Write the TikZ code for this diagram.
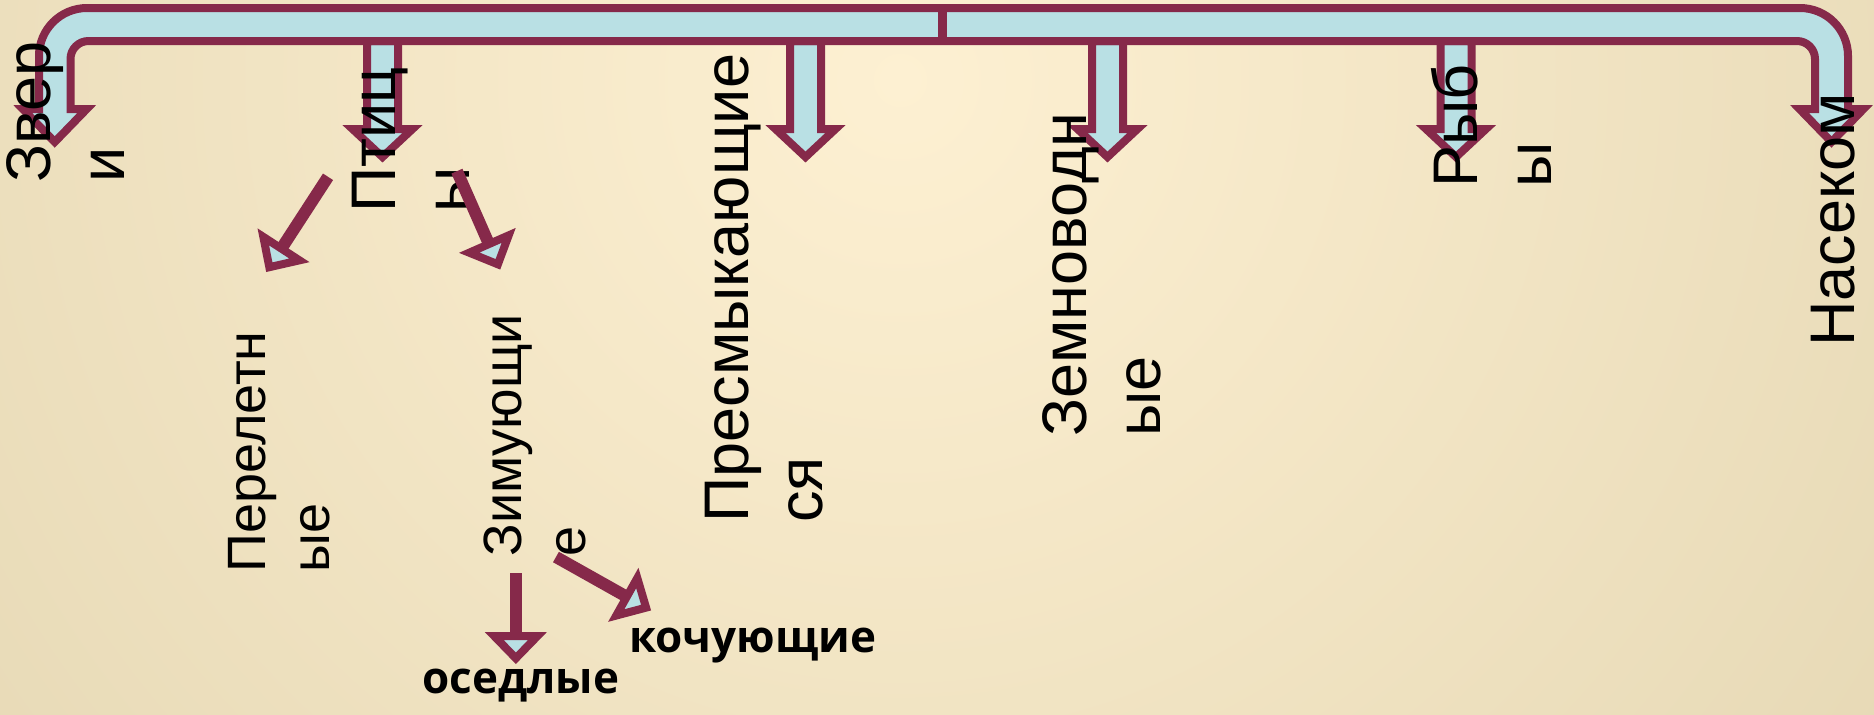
\documentclass[tikz,border=0pt]{standalone}
\usepackage{fontspec}
\setmainfont{Liberation Sans}
\newfontfamily\labelfont{Open Sans}
\usepackage{tikz}
\usetikzlibrary{arrows.meta}
\definecolor{berry}{RGB}{134,41,74}
\definecolor{paleblue}{RGB}{185,224,228}
\definecolor{sandlight}{RGB}{253,240,210}
\definecolor{sanddark}{RGB}{212,198,158}
\tikzstyle{bigtext} = [rotate=90, anchor=north west, inner sep=0pt, align=left,
    font=\fontsize{31.5}{37}\selectfont]
\tikzstyle{midtext} = [rotate=90, anchor=north west, inner sep=0pt, align=left,
    font=\fontsize{27}{32}\selectfont]
\tikzstyle{boldtext} = [anchor=base west, inner sep=0pt, font=\labelfont\bfseries\fontsize{22}{27}\selectfont]
\tikzstyle{blockarrow} = [draw=berry, fill=paleblue, line width=4pt]
\tikzstyle{thinarrow} = [draw=berry, line width=6pt,
    -{Triangle[fill=paleblue, line width'=4pt, length=16pt, width=30pt]}]

\begin{document}
\begin{tikzpicture}[x=0.5pt, y=-0.5pt]
    \useasboundingbox (0,0) rectangle (1874,714);
    \begin{scope}
        \clip (0,0) rectangle (1874,714);
        \shade[inner color=sandlight, outer color=sanddark] (900,80) circle [radius=1100pt];
    \end{scope}

    % Drop arrows under the bar
    \foreach \xc in {382.5, 805.5, 1107.5, 1456}
        \draw[blockarrow] (\xc-15.5,41) -- (\xc-15.5,129) -- (\xc-30,129) -- (\xc,157)
            -- (\xc+30,129) -- (\xc+15.5,129) -- (\xc+15.5,41) -- cycle;

    % Bracket
    \draw[blockarrow] (942,8) -- (87,8) arc [start angle=90, end angle=180, radius=24pt]
        -- (39,109) -- (22.75,109) -- (54.75,142) -- (86.75,109) -- (70.5,109)
        -- (70.5,59) arc [start angle=180, end angle=90, radius=9pt]
        -- (1797,41) arc [start angle=90, end angle=0, radius=9pt]
        -- (1815,109) -- (1799.5,109) -- (1831.5,142) -- (1863.5,109) -- (1848,109)
        -- (1848,56) arc [start angle=0, end angle=90, radius=24pt] -- cycle;
    \draw[berry, line width=4.5pt] (942,4) -- (942,45);

    % Groups
    \node[bigtext] (zveri) at (6,183) {Звер\\и};
    \node[bigtext] (ptitsy) at (352,213) {Птиц\\ы};
    \node[bigtext] (presmyk) at (705,523) {Пресмыкающие\\ся};
    \node[bigtext] (zemnovod) at (1042,437) {Земноводн\\ые};
    \node[bigtext] (ryby) at (1431,188) {Рыб\\ы};
    \node[bigtext] (nasekom) at (1811,347) {Насеком};
    \node[midtext] (pereletnye) at (228,573) {Перелетн\\ые};
    \node[midtext] (zimuyushchie) at (483,557) {Зимующи\\е};
    \node[boldtext] (osedlye) at (422,693) {оседлые};
    \node[boldtext] (kochuyushchie) at (629,652) {кочующие};

    % Draw edges
    \draw[thinarrow, shorten <=22pt, shorten >=35pt] (ptitsy.north) -- (pereletnye.north east);
    \draw[thinarrow, shorten <=57pt, shorten >=24pt] (ptitsy.east) -- (zimuyushchie.7);
    \draw[thinarrow, shorten <=8pt, shorten >=2pt] ([xshift=-2.5pt]zimuyushchie.west -| osedlye.north) -- ([xshift=-2.5pt]osedlye.north);
    \draw[thinarrow, shorten >=17pt] (zimuyushchie.190) -- (kochuyushchie.166);
\end{tikzpicture}
\end{document}
